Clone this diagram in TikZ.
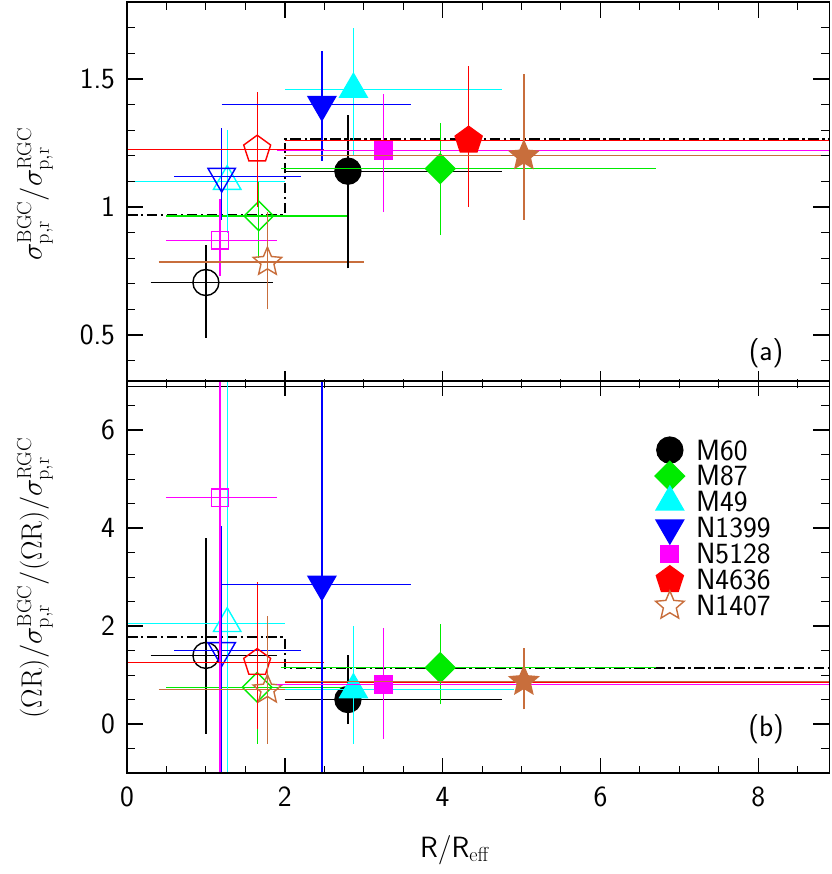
\documentclass[tikz,border=0pt]{standalone}
\usepackage{tikz}
\usetikzlibrary{shapes.geometric}
\definecolor{cgreen}{RGB}{0,235,0}
\definecolor{cbrown}{RGB}{200,110,60}
\definecolor{ccyan}{RGB}{0,255,255}
\definecolor{cmag}{RGB}{255,0,255}
\definecolor{cblue}{RGB}{0,0,255}
\definecolor{cred}{RGB}{255,0,0}
\tikzset{
  mk/.style={inner sep=0pt,line width=1.2pt},
  m60/.style={mk,circle,minimum size=0.78cm},
  m87/.style={mk,diamond,minimum size=0.9cm},
  m49/.style={mk,regular polygon,regular polygon sides=3,minimum size=0.95cm},
  n1399/.style={m49,shape border rotate=180},
  n5128/.style={mk,rectangle,minimum size=0.52cm},
  n4636/.style={mk,regular polygon,regular polygon sides=5,minimum size=0.85cm},
  n1407/.style={mk,star,star points=5,star point ratio=2.2,minimum size=0.9cm},
  bar/.style={line width=1.1pt},
  step line/.style={line width=1.5pt,dash pattern=on 9pt off 3pt on 2pt off 3pt},
  lbl/.style={font=\sffamily\fontsize{25}{30}\selectfont}
}
% color x y xlo xhi ylo yhi marker-style
\newcommand\errpt[8]{\draw[bar,#1] (#4,#3) -- (#5,#3) (#2,#6) -- (#2,#7);
  \node[#8,draw=#1] at (#2,#3) {};}
\begin{document}
\begin{tikzpicture}[x=0.03cm,y=-0.03cm]
\useasboundingbox (0,0) rectangle (831,874);
% top panel
\begin{scope}[shift={(127,463)},xscale=78.9,yscale=-256]
  \begin{scope}
  \clip (0,0.3) rectangle (8.9,1.8);
  \draw[step line] (0,0.97) -- (2,0.97) -- (2,1.265) -- (8.9,1.265);
  \errpt{black}{1.0}{0.705}{0.3}{1.85}{0.49}{0.85}{m60}
  \errpt{cgreen}{1.67}{0.965}{0.5}{2.8}{0.8}{1.1}{m87}
  \errpt{ccyan}{1.27}{1.1}{0}{2.0}{0.9}{1.3}{m49}
  \errpt{cblue}{1.2}{1.12}{0.6}{2.2}{0.95}{1.31}{n1399}
  \errpt{cmag}{1.18}{0.87}{0.5}{1.9}{0.73}{1.03}{n5128}
  \errpt{cred}{1.65}{1.225}{0}{2.5}{1.0}{1.45}{n4636}
  \errpt{cbrown}{1.78}{0.785}{0.4}{3.0}{0.6}{0.98}{n1407}
  \errpt{black}{2.8}{1.14}{2.0}{4.75}{0.76}{1.36}{m60,fill=black}
  \errpt{cgreen}{3.97}{1.15}{1.95}{6.7}{0.89}{1.33}{m87,fill=cgreen}
  \errpt{ccyan}{2.87}{1.46}{2.0}{4.75}{1.2}{1.7}{m49,fill=ccyan}
  \errpt{cblue}{2.47}{1.4}{1.2}{3.6}{1.18}{1.61}{n1399,fill=cblue}
  \errpt{cmag}{3.25}{1.22}{1.9}{8.9}{0.98}{1.44}{n5128,fill=cmag}
  \errpt{cred}{4.33}{1.26}{2.0}{8.9}{1.0}{1.55}{n4636,fill=cred}
  \errpt{cbrown}{5.03}{1.2}{2.0}{8.9}{0.95}{1.52}{n1407,fill=cbrown}
  \end{scope}
  \draw[line width=1.2pt] (0,0.3) rectangle (8.9,1.8);
  \foreach \t in {0.5,1,1.5} {
    \draw[line width=1.2pt] (0,\t) -- ++(0.2,0) (8.9,\t) -- ++(-0.2,0);
    \node[lbl,anchor=east] at (-0.1,\t) {\t};}
  \foreach \t in {0.4,0.6,0.7,0.8,0.9,1.1,1.2,1.3,1.4,1.6,1.7}
    \draw[line width=0.8pt] (0,\t) -- ++(0.1,0) (8.9,\t) -- ++(-0.1,0);
  \foreach \t in {2,4,6,8}
    \draw[line width=1.2pt] (\t,0.3) -- ++(0,0.06) (\t,1.8) -- ++(0,-0.06);
  \foreach \t in {0.5,1,...,8.5}
    \draw[line width=0.8pt] (\t,0.3) -- ++(0,0.03) (\t,1.8) -- ++(0,-0.03);
  \node[lbl] at (8.1,0.43) {(a)};
\end{scope}
% bottom panel
\begin{scope}[shift={(127,724)},xscale=78.9,yscale=-49]
  \begin{scope}
  \clip (0,-1) rectangle (8.9,7);
  \draw[step line] (0,1.77) -- (2,1.77) -- (2,1.15) -- (8.9,1.15);
  \errpt{black}{1.0}{1.4}{0.3}{1.9}{-0.2}{3.8}{m60}
  \errpt{cgreen}{1.65}{0.75}{0.5}{2.8}{-0.4}{2.5}{m87}
  \errpt{ccyan}{1.27}{2.05}{0}{2.0}{-1}{7}{m49}
  \errpt{cblue}{1.2}{1.5}{0.6}{2.2}{-1}{4.05}{n1399}
  \errpt{cmag}{1.18}{4.62}{0.5}{1.9}{-1}{7}{n5128}
  \errpt{cred}{1.65}{1.25}{0}{2.5}{-0.1}{2.9}{n4636}
  \errpt{cbrown}{1.78}{0.7}{0.4}{3.0}{-0.4}{2.2}{n1407}
  \draw[bar,cred] (2.0,0.85) -- (8.9,0.85);
  \errpt{black}{2.8}{0.5}{2.0}{4.75}{0}{1.4}{m60,fill=black}
  \errpt{cgreen}{3.97}{1.15}{1.95}{6.7}{0.4}{2.05}{m87,fill=cgreen}
  \errpt{ccyan}{2.87}{0.7}{2.0}{4.9}{-0.4}{2.0}{m49,fill=ccyan}
  \errpt{cblue}{2.47}{2.85}{1.2}{3.6}{-1}{7}{n1399,fill=cblue}
  \errpt{cmag}{3.25}{0.8}{1.9}{8.9}{-0.3}{1.95}{n5128,fill=cmag}
  \errpt{cbrown}{5.03}{0.87}{2.0}{8.9}{0.3}{1.55}{n1407,fill=cbrown}
  \end{scope}
  \draw[line width=1.2pt] (0,-1) rectangle (8.9,7);
  \foreach \t in {0,2,4,6} {
    \draw[line width=1.2pt] (0,\t) -- ++(0.2,0) (8.9,\t) -- ++(-0.2,0);
    \node[lbl,anchor=east] at (-0.1,\t) {\t};}
  \foreach \t in {-0.5,0.5,1,1.5,2.5,3,3.5,4.5,5,5.5,6.5}
    \draw[line width=0.8pt] (0,\t) -- ++(0.1,0) (8.9,\t) -- ++(-0.1,0);
  \foreach \t in {2,4,6,8}
    \draw[line width=1.2pt] (\t,-1) -- ++(0,0.3) (\t,7) -- ++(0,-0.3);
  \foreach \t in {0.5,1,...,8.5}
    \draw[line width=0.8pt] (\t,-1) -- ++(0,0.15) (\t,7) -- ++(0,-0.15);
  \foreach \t in {0,2,4,6,8}
    \node[lbl,anchor=north] at (\t,-1.2) {\t};
  \node[lbl] at (8.1,-0.1) {(b)};
  % legend
  \foreach \s/\c/\f/\n [count=\i] in {m60/black/black/M60,m87/cgreen/cgreen/M87,
      m49/ccyan/ccyan/M49,n1399/cblue/cblue/N1399,n5128/cmag/cmag/N5128,
      n4636/cred/cred/N4636,n1407/cbrown/white/N1407} {
    \node[\s,draw=\c,fill=\f] (leg\i) at (6.88,6.12-0.53*\i) {};
    \node[lbl,anchor=west] at (7.16,6.12-0.53*\i) {\n};}
\end{scope}
\node[lbl,rotate=90] (ylabA) at (35,194) {$\sigma^{\rm BGC}_{\rm p,r}/\sigma^{\rm RGC}_{\rm p,r}$};
\node[lbl,rotate=90] (ylabB) at (35,578) {$(\Omega{\rm R})/\sigma^{\rm BGC}_{\rm p,r}/(\Omega{\rm R})/\sigma^{\rm RGC}_{\rm p,r}$};
\node[lbl] (xlab) at (455,850) {R/R$_{\rm eff}$};
\end{tikzpicture}
\end{document}
